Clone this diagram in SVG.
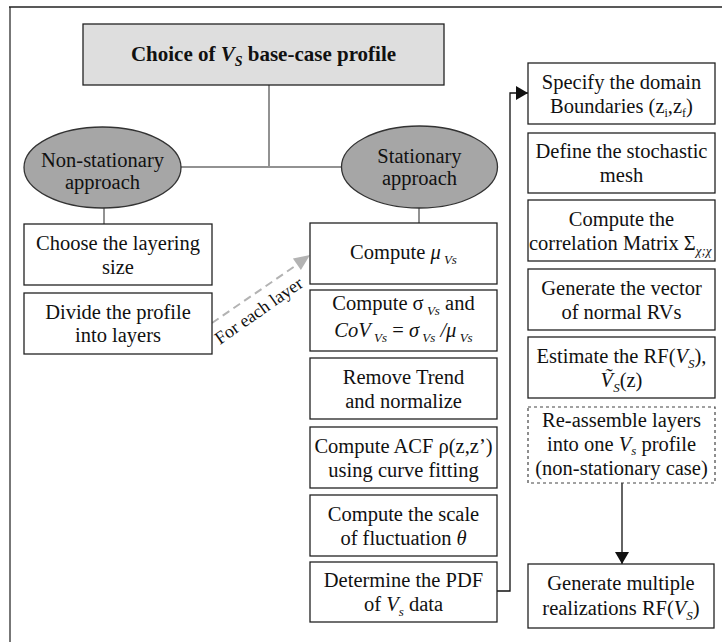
<svg xmlns="http://www.w3.org/2000/svg" width="722" height="642" viewBox="0 0 722 642">
<style>
text{font-family:"Liberation Serif","Times New Roman",serif;font-size:20.5px;fill:#111;text-anchor:middle}
.box{fill:#fff;stroke:#222;stroke-width:1.3}
.dbox{fill:#fff;stroke:#444;stroke-width:1.2;stroke-dasharray:3 3}
.ell{fill:#a6a6a6;stroke:#333;stroke-width:1.3}
.tree{stroke:#6e6e6e;stroke-width:1.5;fill:none}
.arr{stroke:#111;stroke-width:1.3;fill:none}
.it{font-style:italic}
.sub{font-size:13px;font-style:italic}
</style>
<defs>
<marker id="ah" viewBox="0 0 12 14" refX="12" refY="7" markerWidth="12" markerHeight="14" markerUnits="userSpaceOnUse" orient="auto">
<path d="M0,0 L12,7 L0,14 z" fill="#111"/>
</marker>
</defs>
<rect width="722" height="642" fill="#fff"/>
<g id="frame">
<line x1="10" y1="7" x2="10" y2="642" stroke="#777" stroke-width="2"/>
<line x1="9" y1="7" x2="722" y2="7" stroke="#222" stroke-width="1.5"/>
</g>
<g id="connectors">
<line class="tree" x1="269" y1="85" x2="269" y2="166"/>
<line class="tree" x1="181" y1="167" x2="342" y2="167"/>
<line class="tree" x1="104" y1="208" x2="104" y2="224"/>
<line class="tree" x1="419" y1="208" x2="419" y2="223"/>
<path class="arr" d="M497,591 H510 V93 H528" marker-end="url(#ah)"/>
<path class="arr" d="M622,483 V564" marker-end="url(#ah)"/>
<line x1="212" y1="323" x2="298" y2="264" stroke="#b3b3b3" stroke-width="2" stroke-dasharray="8 5"/>
<polygon points="310,255 300.9,269.9 292.9,258.4" fill="#b3b3b3"/>
<text x="220" y="345" transform="rotate(-35 220 345)" style="text-anchor:start;font-size:18px">For each layer</text>
</g>
<g id="title">
<rect x="83" y="24" width="361" height="61" fill="#dedede" stroke="#222" stroke-width="1.3"/>
<text x="263.5" y="61" style="font-weight:bold;font-size:21px">Choice of <tspan class="it">V</tspan><tspan class="it" font-size="14" dy="5">S</tspan><tspan dy="-5"> base-case profile</tspan></text>
</g>
<g id="nonstationary">
<ellipse class="ell" cx="102.5" cy="167.5" rx="78.5" ry="40.5"/>
<text x="102.5" y="167">Non-stationary</text>
<text x="102.5" y="189">approach</text>
</g>
<g id="stationary">
<ellipse class="ell" cx="419.5" cy="167" rx="78" ry="41"/>
<text x="419.5" y="163">Stationary</text>
<text x="419.5" y="185">approach</text>
</g>
<g id="layering">
<rect class="box" x="24" y="224" width="188" height="61"/>
<text x="118" y="250">Choose the layering</text>
<text x="118" y="274">size</text>
</g>
<g id="divide">
<rect class="box" x="24" y="293" width="188" height="61"/>
<text x="118" y="319">Divide the profile</text>
<text x="118" y="342">into layers</text>
</g>
<g id="mean">
<rect class="box" x="310" y="223" width="187" height="61"/>
<text x="403.5" y="259">Compute <tspan class="it">μ</tspan><tspan class="sub" dy="5"> Vs</tspan></text>
</g>
<g id="std">
<rect class="box" x="310" y="290" width="187" height="61"/>
<text x="403.5" y="310">Compute σ<tspan class="sub" dy="5"> Vs</tspan><tspan dy="-5"> and</tspan></text>
<text x="403.5" y="337"><tspan class="it">CoV</tspan><tspan class="sub" dy="5"> Vs</tspan><tspan dy="-5"> = </tspan><tspan class="it">σ</tspan><tspan class="sub" dy="5"> Vs</tspan><tspan dy="-5" class="it"> /μ</tspan><tspan class="sub" dy="5"> Vs</tspan></text>
</g>
<g id="trend">
<rect class="box" x="310" y="358" width="187" height="61"/>
<text x="403.5" y="384">Remove Trend</text>
<text x="403.5" y="408">and normalize</text>
</g>
<g id="acf">
<rect class="box" x="310" y="427" width="187" height="61"/>
<text x="403.5" y="453">Compute ACF ρ(z,z’)</text>
<text x="403.5" y="477">using curve fitting</text>
</g>
<g id="scale">
<rect class="box" x="310" y="495" width="187" height="61"/>
<text x="403.5" y="521">Compute the scale</text>
<text x="403.5" y="545">of fluctuation <tspan class="it">θ</tspan></text>
</g>
<g id="pdf">
<rect class="box" x="310" y="562" width="187" height="60"/>
<text x="403.5" y="587">Determine the PDF</text>
<text x="403.5" y="611">of <tspan class="it">V</tspan><tspan class="sub" dy="5">s</tspan><tspan dy="-5"> data</tspan></text>
</g>
<g id="domain">
<rect class="box" x="528" y="63" width="187" height="61"/>
<text x="621.5" y="89">Specify the domain</text>
<text x="621.5" y="113">Boundaries (z<tspan font-size="12" dy="4">i</tspan><tspan dy="-4">,z</tspan><tspan font-size="12" dy="4">f</tspan><tspan dy="-4">)</tspan></text>
</g>
<g id="mesh">
<rect class="box" x="528" y="133" width="187" height="60"/>
<text x="621.5" y="158">Define the stochastic</text>
<text x="621.5" y="182">mesh</text>
</g>
<g id="corr">
<rect class="box" x="528" y="200" width="187" height="61"/>
<text x="621.5" y="226">Compute the</text>
<text x="529" y="250" style="text-anchor:start">correlation Matrix Σ<tspan class="sub" font-size="11" dy="5">χ;χ</tspan></text>
</g>
<g id="vector">
<rect class="box" x="528" y="269" width="187" height="61"/>
<text x="621.5" y="295">Generate the vector</text>
<text x="621.5" y="319">of normal RVs</text>
</g>
<g id="estimate">
<rect class="box" x="528" y="337" width="187" height="61"/>
<text x="621.5" y="363">Estimate the RF(<tspan class="it">V</tspan><tspan class="sub" dy="5">S</tspan><tspan dy="-5">),</tspan></text>
<text x="621.5" y="387"><tspan class="it">Ṽ</tspan><tspan class="sub" dy="5">S</tspan><tspan dy="-5">(z)</tspan></text>
</g>
<g id="reassemble">
<rect class="dbox" x="528" y="407" width="187" height="76"/>
<text x="621.5" y="427">Re-assemble layers</text>
<text x="621.5" y="451">into one <tspan class="it">V</tspan><tspan class="sub" dy="4">s</tspan><tspan dy="-4"> profile</tspan></text>
<text x="621.5" y="475">(non-stationary case)</text>
</g>
<g id="realizations">
<rect class="box" x="528" y="564" width="186" height="64"/>
<text x="621" y="590">Generate multiple</text>
<text x="621" y="615">realizations RF(<tspan class="it">V</tspan><tspan class="sub" dy="5">S</tspan><tspan dy="-5">)</tspan></text>
</g>
</svg>
